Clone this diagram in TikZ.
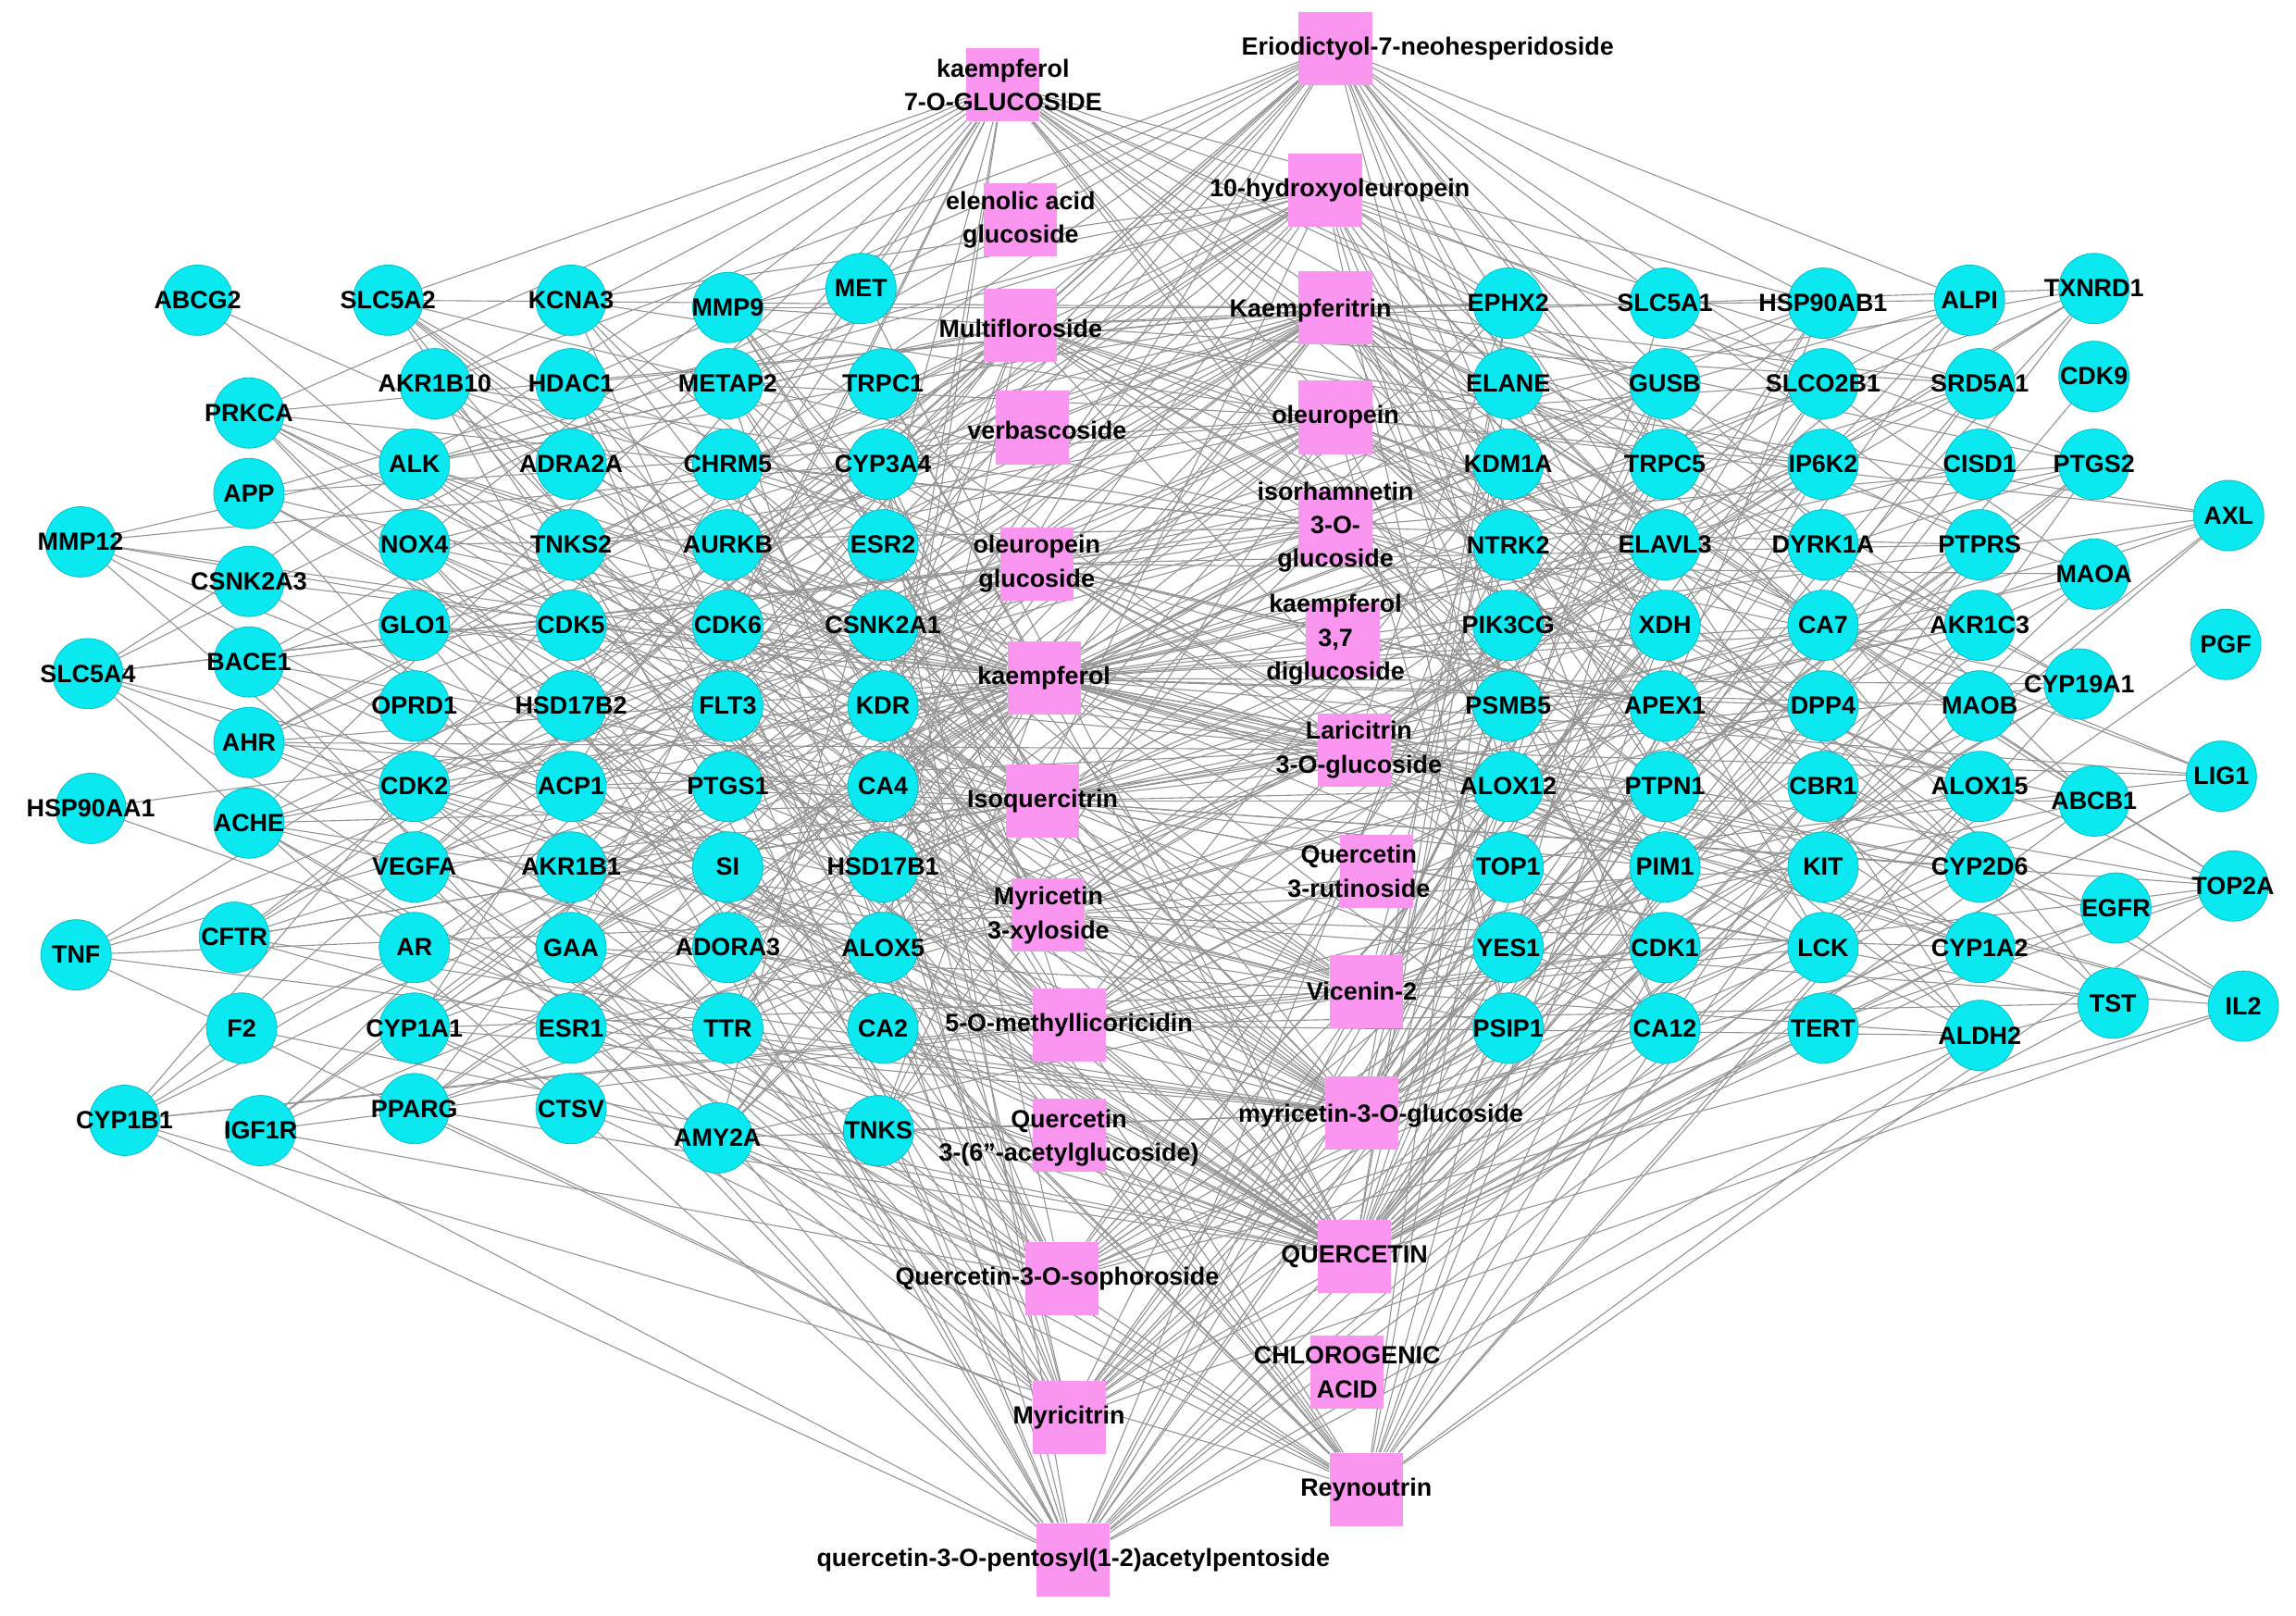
\documentclass[tikz,border=0pt]{standalone}
\usepackage{fontspec}
\setmainfont{Liberation Sans}
\usetikzlibrary{backgrounds}
\definecolor{tcyan}{RGB}{10,232,240}
\definecolor{tcyanD}{RGB}{0,190,205}
\definecolor{cpink}{RGB}{250,150,240}
\def\tgtlist{ABCG2/135/205,SLC5A2/265/205,KCNA3/390/205,MMP9/497/210,MET/588/197,
AKR1B10/297/262,HDAC1/390/262,METAP2/497/262,TRPC1/603/262,PRKCA/170/282,
APP/170/337,ALK/283/317,ADRA2A/390/317,CHRM5/497/317,CYP3A4/603/317,
MMP12/55/370,CSNK2A3/170/397,NOX4/283/372,TNKS2/390/372,AURKB/497/372,ESR2/603/372,
SLC5A4/60/460,BACE1/170/452,GLO1/283/427,CDK5/390/427,CDK6/497/427,CSNK2A1/603/427,
AHR/170/507,OPRD1/283/482,HSD17B2/390/482,FLT3/497/482,KDR/603/482,
HSP90AA1/62/552,ACHE/170/562,CDK2/283/537,ACP1/390/537,PTGS1/497/537,CA4/603/537,
VEGFA/283/592,AKR1B1/390/592,SI/497/592,HSD17B1/603/592,
TNF/52/652,CFTR/160/640,AR/283/647,GAA/390/647,ADORA3/497/647,ALOX5/603/647,
F2/165/702,CYP1A1/283/702,ESR1/390/702,TTR/497/702,CA2/603/702,
CYP1B1/85/765,IGF1R/178/772,PPARG/283/757,CTSV/390/757,AMY2A/490/777,TNKS/600/772,
EPHX2/1030/207,SLC5A1/1137/207,HSP90AB1/1245/207,ALPI/1345/205,TXNRD1/1430/197,
ELANE/1030/262,GUSB/1137/262,SLCO2B1/1245/262,SRD5A1/1352/262,CDK9/1430/257,
KDM1A/1030/317,TRPC5/1137/317,IP6K2/1245/317,CISD1/1352/317,PTGS2/1430/317,
NTRK2/1030/372,ELAVL3/1137/372,DYRK1A/1245/372,PTPRS/1352/372,MAOA/1430/392,AXL/1522/352,
PIK3CG/1030/427,XDH/1137/427,CA7/1245/427,AKR1C3/1352/427,PGF/1520/440,
PSMB5/1030/482,APEX1/1137/482,DPP4/1245/482,MAOB/1352/482,CYP19A1/1420/467,
ALOX12/1030/537,PTPN1/1137/537,CBR1/1245/537,ALOX15/1352/537,ABCB1/1430/547,LIG1/1517/530,
TOP1/1030/592,PIM1/1137/592,KIT/1245/592,CYP2D6/1352/592,
YES1/1030/647,CDK1/1137/647,LCK/1245/647,CYP1A2/1352/647,EGFR/1445/620,TOP2A/1525/605,
PSIP1/1030/702,CA12/1137/702,TERT/1245/702,ALDH2/1352/707,TST/1443/685,IL2/1532/687}
\begin{document}
\begin{tikzpicture}[x=1pt,y=-1pt,
 tgt/.style={circle,fill=tcyan,draw=tcyanD,line width=0.5pt,minimum size=48pt,inner sep=0pt},
 cmp/.style={rectangle,fill=cpink,draw=none,minimum size=50pt,inner sep=0pt},
 lab/.style={align=center,inner sep=0pt,font=\bfseries\fontsize{17}{23}\selectfont},
 edge/.style={draw=gray!85,line width=0.7pt}]
\useasboundingbox (0,0) rectangle (1568,1103);
\foreach \l/\x/\y [count=\k] in \tgtlist {\node[tgt] (t\k) at (\x,\y) {};\xdef\ntg{\k}}
\foreach \x/\y [count=\k] in {685/58,912/33,697/150,905/130,697/222,912/210,705/292,912/285,912/360,708/385,917/437,713/463,925/512,712/547,940/595,716/625,933/677,730/700,730/775,930/760,925/858,725/873,920/937,730/968,933/1017,733/1065}
{\node[cmp] (c\k) at (\x,\y) {};}
\begin{scope}[on background layer]
\foreach \i in {1,...,26}{
  \pgfmathtruncatemacro\th{(\i==12||\i==21)?5:((\i==6||\i==14||\i==20||\i==23)?3:2)}
  \foreach \j in {1,...,\ntg}{
    \pgfmathtruncatemacro\r{mod(\i*37+\j*11+\i*\j*3,8)}
    \ifnum\r<\th \draw[edge] (c\i) -- (t\j);\fi
  }}
\end{scope}
\foreach \l/\x/\y [count=\k] in \tgtlist {\node[lab] (tl\k) at (\x,\y) {\l};}
\node[lab] (l1) at (685,58) {kaempferol\\7-O-GLUCOSIDE};
\node[lab] (l2) at (975,33) {Eriodictyol-7-neohesperidoside};
\node[lab] (l3) at (697,150) {elenolic acid\\glucoside};
\node[lab] (l4) at (915,130) {10-hydroxyoleuropein};
\node[lab] (l5) at (697,224) {Multifloroside};
\node[lab] (l6) at (895,212) {Kaempferitrin};
\node[lab] (l7) at (715,294) {verbascoside};
\node[lab] (l8) at (912,285) {oleuropein};
\node[lab] (l9) at (912,360) {isorhamnetin\\3-O-\\glucoside};
\node[lab] (l10) at (708,385) {oleuropein\\glucoside};
\node[lab] (l11) at (912,437) {kaempferol\\3,7\\diglucoside};
\node[lab] (l12) at (713,463) {kaempferol};
\node[lab] (l13) at (928,512) {Laricitrin\\3-O-glucoside};
\node[lab] (l14) at (712,547) {Isoquercitrin};
\node[lab] (l15) at (928,595) {Quercetin\\3-rutinoside};
\node[lab] (l16) at (716,625) {Myricetin\\3-xyloside};
\node[lab] (l17) at (930,677) {Vicenin-2};
\node[lab] (l18) at (730,700) {5-O-methyllicoricidin};
\node[lab] (l19) at (730,777) {Quercetin\\3-(6''-acetylglucoside)};
\node[lab] (l20) at (943,762) {myricetin-3-O-glucoside};
\node[lab] (l21) at (925,858) {QUERCETIN};
\node[lab] (l22) at (722,873) {Quercetin-3-O-sophoroside};
\node[lab] (l23) at (920,937) {CHLOROGENIC\\ACID};
\node[lab] (l24) at (730,968) {Myricitrin};
\node[lab] (l25) at (933,1017) {Reynoutrin};
\node[lab] (l26) at (733,1065) {quercetin-3-O-pentosyl(1-2)acetylpentoside};
\end{tikzpicture}
\end{document}
